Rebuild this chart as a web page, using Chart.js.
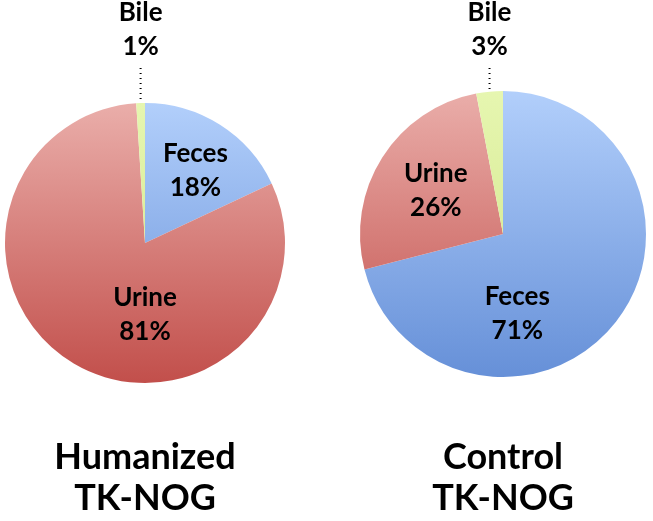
<!DOCTYPE html>
<html>
<head>
<meta charset="utf-8">
<script src="https://cdn.jsdelivr.net/npm/chart.js@4"></script>
<style>
  body { margin: 0; background: #fff; }
  .wrap { position: relative; width: 653px; height: 521px; }
  .box { position: absolute; top: 0; width: 326px; height: 521px; }
</style>
</head>
<body>
<div class="wrap">
  <div class="box" style="left:0"><canvas id="pie1"></canvas></div>
  <div class="box" style="left:327px"><canvas id="pie2"></canvas></div>
</div>
<script>
// data
let categories = ['Feces', 'Urine', 'Bile']
let humanized = [18, 81, 1]
let control = [71, 26, 3]
let titles = [['Humanized', 'TK-NOG'], ['Control', 'TK-NOG']]

// gradient colours, top -> bottom
let topColors = ['#b2cffb', '#eaaeaa', '#e6f6b0']
let bottomColors = ['#6690d8', '#c24f4b', '#cfe486']

let FONT = 'Lato, "Open Sans", sans-serif'

let fill = (ctx) => {
  let i = ctx.dataIndex
  let chart = ctx.chart
  let a = chart.chartArea
  if (!a) return topColors[i]
  let g = chart.ctx.createLinearGradient(0, a.top, 0, a.bottom)
  g.addColorStop(0, topColors[i])
  g.addColorStop(1, bottomColors[i])
  return g
}

// label placement: offset from pie centre in units of radius, or 'out' for the top callout
let labelPlaces = {
  pie1: [[0.36, -0.52], [0, 0.51], 'out'],
  pie2: [[0.10, 0.56], [-0.47, -0.30], 'out']
}

let labelsPlugin = {
  id: 'sliceLabels',
  afterDraw(chart) {
    let c = chart.ctx
    let meta = chart.getDatasetMeta(0)
    let vals = chart.data.datasets[0].data
    let places = labelPlaces[chart.canvas.id]
    c.save()
    c.fillStyle = '#000'
    c.textAlign = 'center'
    c.textBaseline = 'middle'
    c.font = 'bold 26px ' + FONT
    meta.data.forEach((arc, i) => {
      let text = [chart.data.labels[i], vals[i] + '%']
      let x, y
      if (places[i] === 'out') {
        // callout above the pie with dotted leader
        let ang = arc.startAngle + (arc.endAngle - arc.startAngle) / 2
        let ex = arc.x + Math.cos(ang) * arc.outerRadius
        let ey = arc.y + Math.sin(ang) * arc.outerRadius
        x = ex
        y = 30
        c.save()
        c.strokeStyle = '#000'
        c.lineWidth = 2
        c.setLineDash([1, 4])
        c.beginPath()
        c.moveTo(ex, 68)
        c.lineTo(ex, ey - 2)
        c.stroke()
        c.restore()
      } else {
        x = arc.x + places[i][0] * arc.outerRadius
        y = arc.y + places[i][1] * arc.outerRadius
      }
      c.fillText(text[0], x, y - 17)
      c.fillText(text[1], x, y + 17)
    })
    // bottom title
    let t = titles[chart.canvas.id === 'pie1' ? 0 : 1]
    let cx = meta.data[0].x
    c.font = 'bold 36px ' + FONT
    c.fillText(t[0], cx, 457)
    c.fillText(t[1], cx, 498)
    c.restore()
  }
}

let plot = (id, values, padding) => {
  let config = {
    type: 'pie',
    data: {
      labels: categories,
      datasets: [{
        data: values,
        backgroundColor: fill,
        borderWidth: 0
      }]
    },
    options: {
      responsive: false,
      animation: false,
      layout: { padding: padding },
      plugins: {
        legend: { display: false },
        tooltip: { enabled: false }
      }
    },
    plugins: [labelsPlugin]
  }
  let el = document.getElementById(id)
  el.width = 326
  el.height = 521
  return new Chart(el, config)
}

plot('pie1', humanized, { left: 5, right: 41, top: 103, bottom: 138 })
plot('pie2', control, { left: 33, right: 7, top: 91, bottom: 144 })
</script>
</body>
</html>
